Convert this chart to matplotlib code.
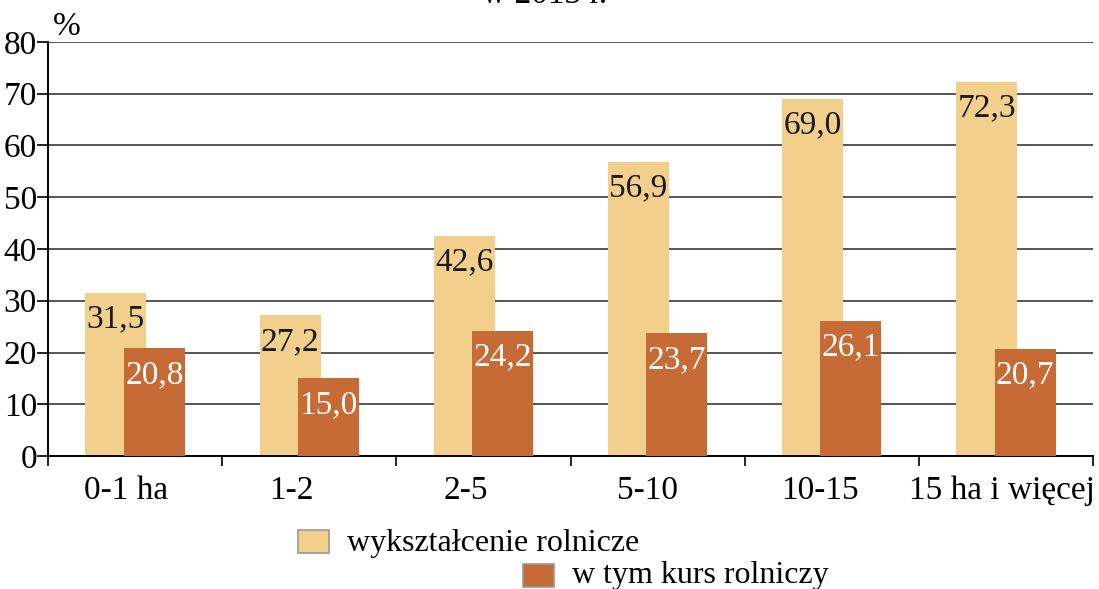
import matplotlib
matplotlib.use('Agg')
import matplotlib.pyplot as plt
from matplotlib.patches import Rectangle
import numpy as np

# data
categories = ['0-1 ha', '1-2', '2-5', '5-10', '10-15', '15 ha i więcej']
wyksztalcenie = [31.5, 27.2, 42.6, 56.9, 69.0, 72.3]
kurs = [20.8, 15.0, 24.2, 23.7, 26.1, 20.7]
series_names = ['wykształcenie rolnicze', 'w tym kurs rolniczy']

light = '#F2D08C'
dark = '#C66B35'

plt.rcParams['font.family'] = ['Liberation Serif', 'DejaVu Serif']

W, H = 1099, 589
fig = plt.figure(figsize=(W / 100, H / 100), dpi=100)
ax = fig.add_axes([48 / W, 1 - 456 / H, (1093 - 48) / W, (456 - 42) / H])

x = np.arange(len(categories))
bw = 0.35
ax.bar(x - 0.11, wyksztalcenie, width=bw, color=light, zorder=2)
ax.bar(x + 0.11, kurs, width=bw, color=dark, zorder=3)

for xi, v in zip(x, wyksztalcenie):
    ax.annotate(f'{v:.1f}'.replace('.', ','), (xi - 0.11, v), xytext=(0, -8),
                textcoords='offset points', ha='center', va='top',
                fontsize=24, color='#1a1a1a', zorder=4)
for xi, v in zip(x, kurs):
    ax.annotate(f'{v:.1f}'.replace('.', ','), (xi + 0.11, v), xytext=(0, -8),
                textcoords='offset points', ha='center', va='top',
                fontsize=24, color='white', zorder=4)

ax.set_xlim(-0.5, len(categories) - 0.5)
ax.set_ylim(0, 80)
ax.set_yticks(range(0, 81, 10))
ax.tick_params(axis='y', labelsize=24, length=8, width=1.2, pad=0)
ax.yaxis.grid(True, color='#555555', linewidth=1.4, zorder=1)
ax.set_axisbelow(True)

# labels sit a little left of the group centres, last one against the edge
ax.set_xticks([-0.05, -0.1, -0.1, -0.06, -0.07, -0.02] + x)
ax.set_xticklabels(categories, fontsize=24)
ax.tick_params(axis='x', length=0, pad=14)
ax.set_xticks(np.arange(-0.5, len(categories)), minor=True)
ax.tick_params(axis='x', which='minor', length=7, width=1.2)

for s in ['top', 'right']:
    ax.spines[s].set_visible(False)
ax.spines['left'].set_linewidth(1.4)
ax.spines['bottom'].set_linewidth(1.4)

fig.text(53 / W, 1 - 35 / H, '%', fontsize=24, ha='left', va='baseline')
fig.text(545 / W, 1 - 3 / H, 'w 2013 r.', fontsize=24, ha='center', va='baseline')

# legend
fig.patches.append(Rectangle((298 / W, 1 - 553 / H), 31 / W, 23 / H,
                             transform=fig.transFigure, facecolor=light,
                             edgecolor='#999999', linewidth=1.2))
fig.text(347 / W, 1 - 543 / H, series_names[0], fontsize=23, ha='left', va='center')
fig.patches.append(Rectangle((523 / W, 1 - 587 / H), 31 / W, 23 / H,
                             transform=fig.transFigure, facecolor=dark,
                             edgecolor='#999999', linewidth=1.2))
fig.text(572 / W, 1 - 576 / H, series_names[1], fontsize=23, ha='left', va='center')

fig.savefig('out.png', dpi=100)
